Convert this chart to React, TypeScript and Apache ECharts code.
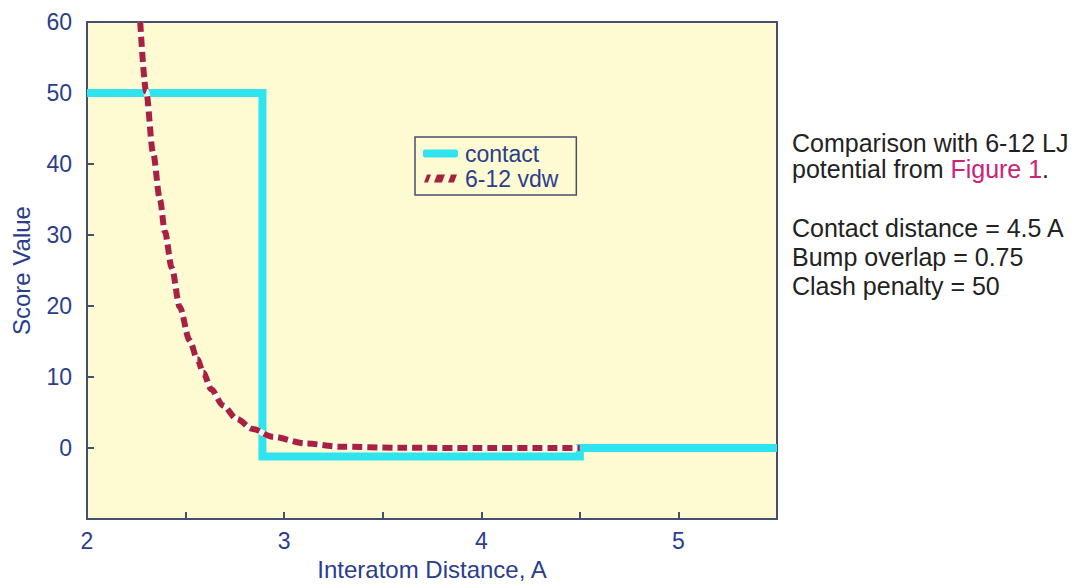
import React, { useEffect, useRef } from "react";
import * as echarts from "echarts";

const contactX = [2, 2.89, 2.89, 4.5, 4.5, 5.5];
const contactY = [50, 50, -1.2, -1.2, 0, 0];

const vdwX = [2.27, 2.3, 2.335, 2.37, 2.395, 2.43, 2.47, 2.52, 2.56, 2.59, 2.63, 2.69, 2.76, 2.84, 2.94, 3.11, 3.28, 3.59, 4.0, 4.5];
const vdwY = [60, 50.2, 41.6, 35, 30.5, 25.4, 19.9, 15.2, 12.5, 10.6, 8.3, 6.0, 4.1, 2.7, 1.6, 0.65, 0.2, 0.05, 0, 0];

const xTicks = [2, 3, 4, 5];
const yTicks = [0, 10, 20, 30, 40, 50, 60];

const noteLines = [
  "Comparison with 6-12 LJ",
  "potential from {m|Figure 1}.",
  "Contact distance = 4.5 A",
  "Bump overlap = 0.75",
  "Clash penalty = 50",
];
const noteTops = [130, 156, 215, 244, 273];

const FONT = "'Liberation Sans', Arial, Helvetica, sans-serif";
const NAVY = "#2b3d8c";
const AXIS = "#45506e";
const CYAN = "#2fe4ee";
const RED = "#a82140";

export default function App() {
  const ref = useRef<HTMLDivElement>(null);
  useEffect(() => {
    document.body.style.margin = "0";
    if (!ref.current) return;
    const chart = echarts.init(ref.current, undefined, { renderer: "svg" });
    const contactData = contactX.map((x, i) => [x, contactY[i]]);
    const vdwData = vdwX.map((x, i) => [x, vdwY[i]]);
    chart.setOption({
      animation: false,
      backgroundColor: "#ffffff",
      textStyle: { fontFamily: FONT },
      grid: {
        left: 87,
        top: 22,
        right: 314,
        bottom: 60,
        show: true,
        backgroundColor: "#fefbd2",
        borderColor: AXIS,
        borderWidth: 2,
      },
      legend: {
        data: [
          { name: "contact", icon: "roundRect" },
          {
            name: "6-12 vdw",
            icon: "path://M2,8L5,0H9L6,8Z M12,8L15,0H23L20,8Z M26,8L29,0H35L32,8Z",
          },
        ],
        orient: "vertical",
        left: 415,
        top: 137,
        padding: [5, 18, 5, 8],
        itemGap: 2,
        itemWidth: 35,
        itemHeight: 8,
        borderColor: AXIS,
        borderWidth: 1.5,
        backgroundColor: "#fefbd2",
        textStyle: { fontSize: 23, color: NAVY, fontFamily: FONT, padding: [0, 0, 0, 2] },
      },
      xAxis: {
        type: "value",
        min: 2,
        max: 5.5,
        interval: 0.5,
        name: "Interatom Distance, A",
        nameLocation: "middle",
        nameGap: 33,
        nameTextStyle: { fontSize: 24, color: NAVY, fontFamily: FONT },
        axisLine: { show: true, onZero: false, lineStyle: { color: AXIS, width: 2 } },
        axisTick: { show: true, inside: true, length: 7, lineStyle: { color: AXIS, width: 2 } },
        splitLine: { show: false },
        axisLabel: {
          fontSize: 23,
          color: NAVY,
          margin: 10,
          fontFamily: FONT,
          formatter: (v: number) => (xTicks.includes(v) ? String(v) : ""),
        },
      },
      yAxis: {
        type: "value",
        min: -10,
        max: 60,
        interval: 10,
        name: "Score Value",
        nameLocation: "middle",
        nameGap: 54,
        nameTextStyle: { fontSize: 24, color: NAVY, fontFamily: FONT },
        axisLine: { show: true, onZero: false, lineStyle: { color: AXIS, width: 2 } },
        axisTick: { show: true, inside: true, length: 7, lineStyle: { color: AXIS, width: 2 } },
        splitLine: { show: false },
        axisLabel: {
          fontSize: 23,
          color: NAVY,
          margin: 15,
          fontFamily: FONT,
          formatter: (v: number) => (yTicks.includes(v) ? String(v) : ""),
        },
      },
      series: [
        {
          name: "contact",
          type: "line",
          data: contactData,
          symbol: "none",
          z: 2,
          lineStyle: { color: CYAN, width: 8, cap: "butt", join: "miter" },
          itemStyle: { color: CYAN },
        },
        {
          name: "vdw-under",
          type: "line",
          data: vdwData,
          symbol: "none",
          smooth: 0.3,
          smoothMonotone: "x",
          z: 3,
          silent: true,
          lineStyle: { color: "#ffffff", width: 6, opacity: 0.85 },
        },
        {
          name: "6-12 vdw",
          type: "line",
          data: vdwData,
          symbol: "none",
          smooth: 0.3,
          smoothMonotone: "x",
          z: 4,
          lineStyle: { color: RED, width: 6, type: [10, 5] },
          itemStyle: { color: RED },
        },
      ],
      graphic: noteLines.map((t, i) => ({
        type: "text",
        left: 792,
        top: noteTops[i],
        style: {
          text: t,
          fontSize: 25,
          lineHeight: 25,
          fontFamily: FONT,
          fill: "#222222",
          rich: {
            m: { fontSize: 25, lineHeight: 25, fontFamily: FONT, fill: "#cc2277", color: "#cc2277" },
          },
        },
      })),
    });
    return () => chart.dispose();
  }, []);
  return <div ref={ref} style={{ width: 1091, height: 586 }} />;
}
